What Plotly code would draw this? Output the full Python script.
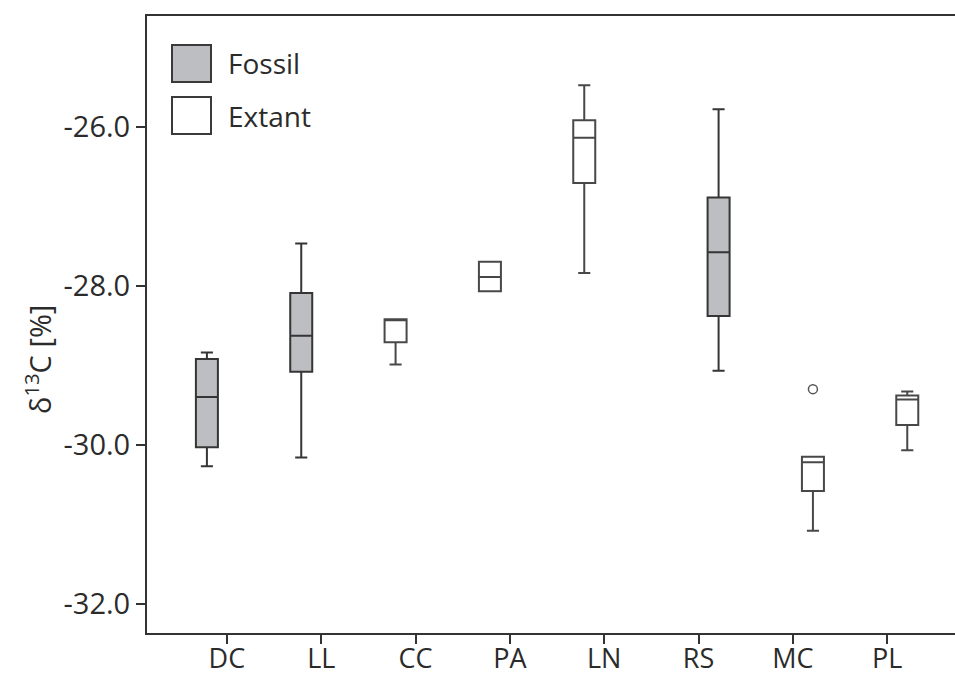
import plotly.graph_objects as go

# ---- data ----
categories = ["DC", "LL", "CC", "PA", "LN", "RS", "MC", "PL"]
kind = ["Fossil", "Fossil", "Extant", "Extant", "Extant", "Fossil", "Extant", "Extant"]
offset_group = ["a", "a", "a", "a", "a", "b", "b", "b"]
lower_whisker = [-30.27, -30.16, -28.99, -28.07, -27.84, -29.07, -31.08, -30.07]
q1_vals = [-30.03, -29.08, -28.71, -28.07, -26.71, -28.38, -30.58, -29.75]
median_vals = [-29.40, -28.63, -28.42, -27.89, -26.14, -27.58, -30.22, -29.43]
q3_vals = [-28.92, -28.09, -28.42, -27.70, -25.92, -26.89, -30.15, -29.38]
upper_whisker = [-28.84, -27.47, -28.42, -27.70, -25.48, -25.78, -30.15, -29.33]
outlier_cat = ["MC"]
outlier_val = [-29.30]
y_tick_vals = [-26, -28, -30, -32]
y_tick_text = ["-26.0", "-28.0", "-30.0", "-32.0"]

FONT = "Open Sans"
TXT = "#2b2b2b"
styles = {
    "Fossil": dict(fill="#bdbec1", line="#353535"),
    "Extant": dict(fill="#ffffff", line="#484848"),
}

fig = go.Figure()
for grp in ["a", "b"]:
    for k in ["Fossil", "Extant"]:
        idx = [i for i in range(len(categories)) if kind[i] == k and offset_group[i] == grp]
        if not idx:
            continue
        xs = [categories[i] for i in idx]
        samples = [[v for c, v in zip(outlier_cat, outlier_val) if c == categories[i]] for i in idx]
        extra = {}
        if any(len(s) for s in samples):
            extra["y"] = samples
            extra["boxpoints"] = "outliers"
        else:
            extra["boxpoints"] = False
        fig.add_trace(go.Box(
            x=xs,
            q1=[q1_vals[i] for i in idx],
            median=[median_vals[i] for i in idx],
            q3=[q3_vals[i] for i in idx],
            lowerfence=[lower_whisker[i] for i in idx],
            upperfence=[upper_whisker[i] for i in idx],
            offsetgroup=grp,
            name=k,
            showlegend=False,
            fillcolor=styles[k]["fill"],
            line=dict(color=styles[k]["line"], width=2),
            whiskerwidth=0.55,
            jitter=0,
            pointpos=0,
            marker=dict(symbol="circle-open", size=9, color="#555555",
                        line=dict(width=1.5, color="#555555")),
            hoverinfo="skip",
            **extra,
        ))

# custom legend (large swatches as in reference)
W, H = 955, 680
ml, mr, mt, mb = 147, 0, 16, 47
pw, ph = W - ml - mr, H - mt - mb

def px_x(x):
    return (x - ml) / pw

def px_y(y):
    return (H - mb - y) / ph

legend_items = [("Fossil", 45, 82), ("Extant", 97, 134)]
shapes = []
annotations = []
for name, y0, y1 in legend_items:
    shapes.append(dict(type="rect", xref="paper", yref="paper",
                       x0=px_x(172), x1=px_x(211), y0=px_y(y1), y1=px_y(y0),
                       fillcolor=styles[name]["fill"],
                       line=dict(color="#3a3a3a", width=2)))
    annotations.append(dict(xref="paper", yref="paper", x=px_x(226), y=px_y((y0 + y1) / 2),
                            xanchor="left", yanchor="middle", text=name, showarrow=False,
                            font=dict(family=FONT, size=28, color=TXT)))

# y-axis title as rotated annotation
annotations.append(dict(xref="paper", yref="paper", x=px_x(38), y=px_y(360),
                        xanchor="center", yanchor="middle", textangle=-90,
                        text="δ<sup>13</sup>C [%]", showarrow=False,
                        font=dict(family=FONT, size=29, color=TXT)))

fig.update_layout(
    width=W, height=H,
    margin=dict(l=ml, r=mr, t=mt, b=mb, pad=0, autoexpand=False),
    paper_bgcolor="white", plot_bgcolor="white",
    boxmode="group", boxgap=0.152, boxgroupgap=0.45,
    shapes=shapes, annotations=annotations,
    font=dict(family=FONT, size=28, color=TXT),
    showlegend=False,
)
fig.update_xaxes(
    type="category", categoryorder="array", categoryarray=categories,
    range=[-0.847, 7.718], automargin=False,
    showgrid=False, zeroline=False,
    showline=True, linecolor="#333333", linewidth=2, mirror=True,
    ticks="outside", ticklen=9, tickwidth=1.5, tickcolor="#333333",
    ticklabelstandoff=-8,
    tickfont=dict(family=FONT, size=27, color=TXT),
)
fig.update_yaxes(
    range=[-32.366, -24.609], automargin=False,
    tickvals=y_tick_vals, ticktext=y_tick_text,
    showgrid=False, zeroline=False,
    showline=True, linecolor="#333333", linewidth=2, mirror=False,
    ticks="outside", ticklen=9, tickwidth=1.5, tickcolor="#333333",
    ticklabelstandoff=0,
    tickfont=dict(family=FONT, size=29, color=TXT),
)

fig.write_html("out.html")
